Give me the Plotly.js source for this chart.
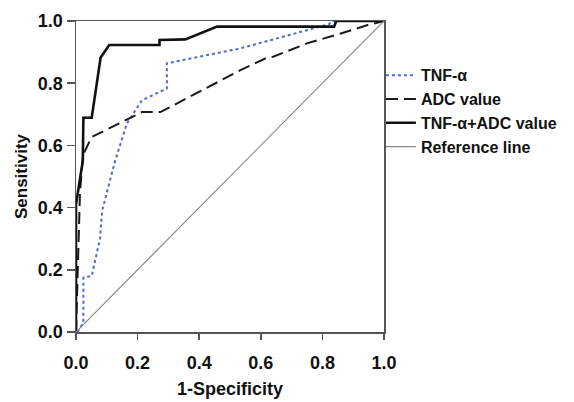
<!DOCTYPE html>
<html>
<head>
<meta charset="utf-8">
<script src="https://cdn.plot.ly/plotly-3.0.1.min.js"></script>
<style>html,body{margin:0;padding:0;background:#fff;}#chart{width:574px;height:402px;}</style>
</head>
<body>
<div id="chart"></div>
<script>
// TNF-α ROC curve
const tnfX = [0.005, 0.024, 0.024, 0.051, 0.078, 0.085, 0.111, 0.127, 0.165, 0.214, 0.295, 0.295, 0.534, 0.6, 0.822, 0.83, 1];
const tnfY = [0, 0.03, 0.175, 0.18, 0.30, 0.39, 0.49, 0.55, 0.67, 0.745, 0.783, 0.864, 0.912, 0.93, 0.99, 1, 1];
// ADC value ROC curve
const adcX = [0, 0.005, 0.013, 0.023, 0.051, 0.214, 0.274, 0.534, 0.6, 0.616, 0.64, 0.75, 0.86, 0.947, 1];
const adcY = [0, 0.2, 0.45, 0.57, 0.627, 0.707, 0.707, 0.842, 0.871, 0.88, 0.885, 0.928, 0.96, 0.987, 1];
// TNF-α + ADC value ROC curve
const comboX = [0, 0, 0.022, 0.024, 0.051, 0.080, 0.108, 0.271, 0.271, 0.355, 0.458, 0.838, 0.845, 1];
const comboY = [0, 0.41, 0.55, 0.689, 0.689, 0.883, 0.923, 0.923, 0.939, 0.941, 0.982, 0.982, 1, 1];
// Reference line
const refX = [0, 1];
const refY = [0, 1];
const names = ['TNF-α', 'ADC value', 'TNF-α+ADC value', 'Reference line'];
const tickVals = [0, 0.2, 0.4, 0.6, 0.8, 1.0];
const tickText = ['0.0', '0.2', '0.4', '0.6', '0.8', '1.0'];

const font = {family: 'Liberation Sans, Arial, sans-serif', color: '#111', weight: 'bold'};

const traces = [
  {x: tnfX, y: tnfY, name: names[0], mode: 'lines', line: {color: '#4a6bd0', width: 2, dash: 'dot'}},
  {x: adcX, y: adcY, name: names[1], mode: 'lines', line: {color: '#1a1a1a', width: 2, dash: '12px,6px'}},
  {x: comboX, y: comboY, name: names[2], mode: 'lines', line: {color: '#111', width: 2.6}},
  {x: refX, y: refY, name: names[3], mode: 'lines', line: {color: '#888', width: 1.2}}
];

const axisCommon = {
  range: [0, 1], tickvals: tickVals, ticktext: tickText,
  showgrid: false, zeroline: false, showline: true, mirror: true,
  linecolor: '#555', linewidth: 1.5, ticks: 'outside', tickcolor: '#555', tickwidth: 1.5,
  tickfont: Object.assign({size: 18}, font), fixedrange: true
};

const layout = {
  width: 574, height: 402,
  margin: {l: 76, r: 190, t: 21, b: 70},
  paper_bgcolor: '#fff', plot_bgcolor: '#fff',
  showlegend: true,
  legend: {x: 0.99, xanchor: 'left', xref: 'paper', y: 0.88, yanchor: 'top', bgcolor: 'rgba(0,0,0,0)',
           font: Object.assign({size: 16}, font), borderwidth: 0, itemwidth: 30, traceorder: 'normal'},
  xaxis: Object.assign({}, axisCommon, {ticklen: 6, ticklabelstandoff: 8, title: {text: '1-Specificity', font: Object.assign({size: 18}, font), standoff: 10}}),
  yaxis: Object.assign({}, axisCommon, {ticklen: 8, title: {text: 'Sensitivity', font: Object.assign({size: 17}, font), standoff: 6}})
};

Plotly.newPlot('chart', traces, layout, {displayModeBar: false, staticPlot: true});
</script>
</body>
</html>
